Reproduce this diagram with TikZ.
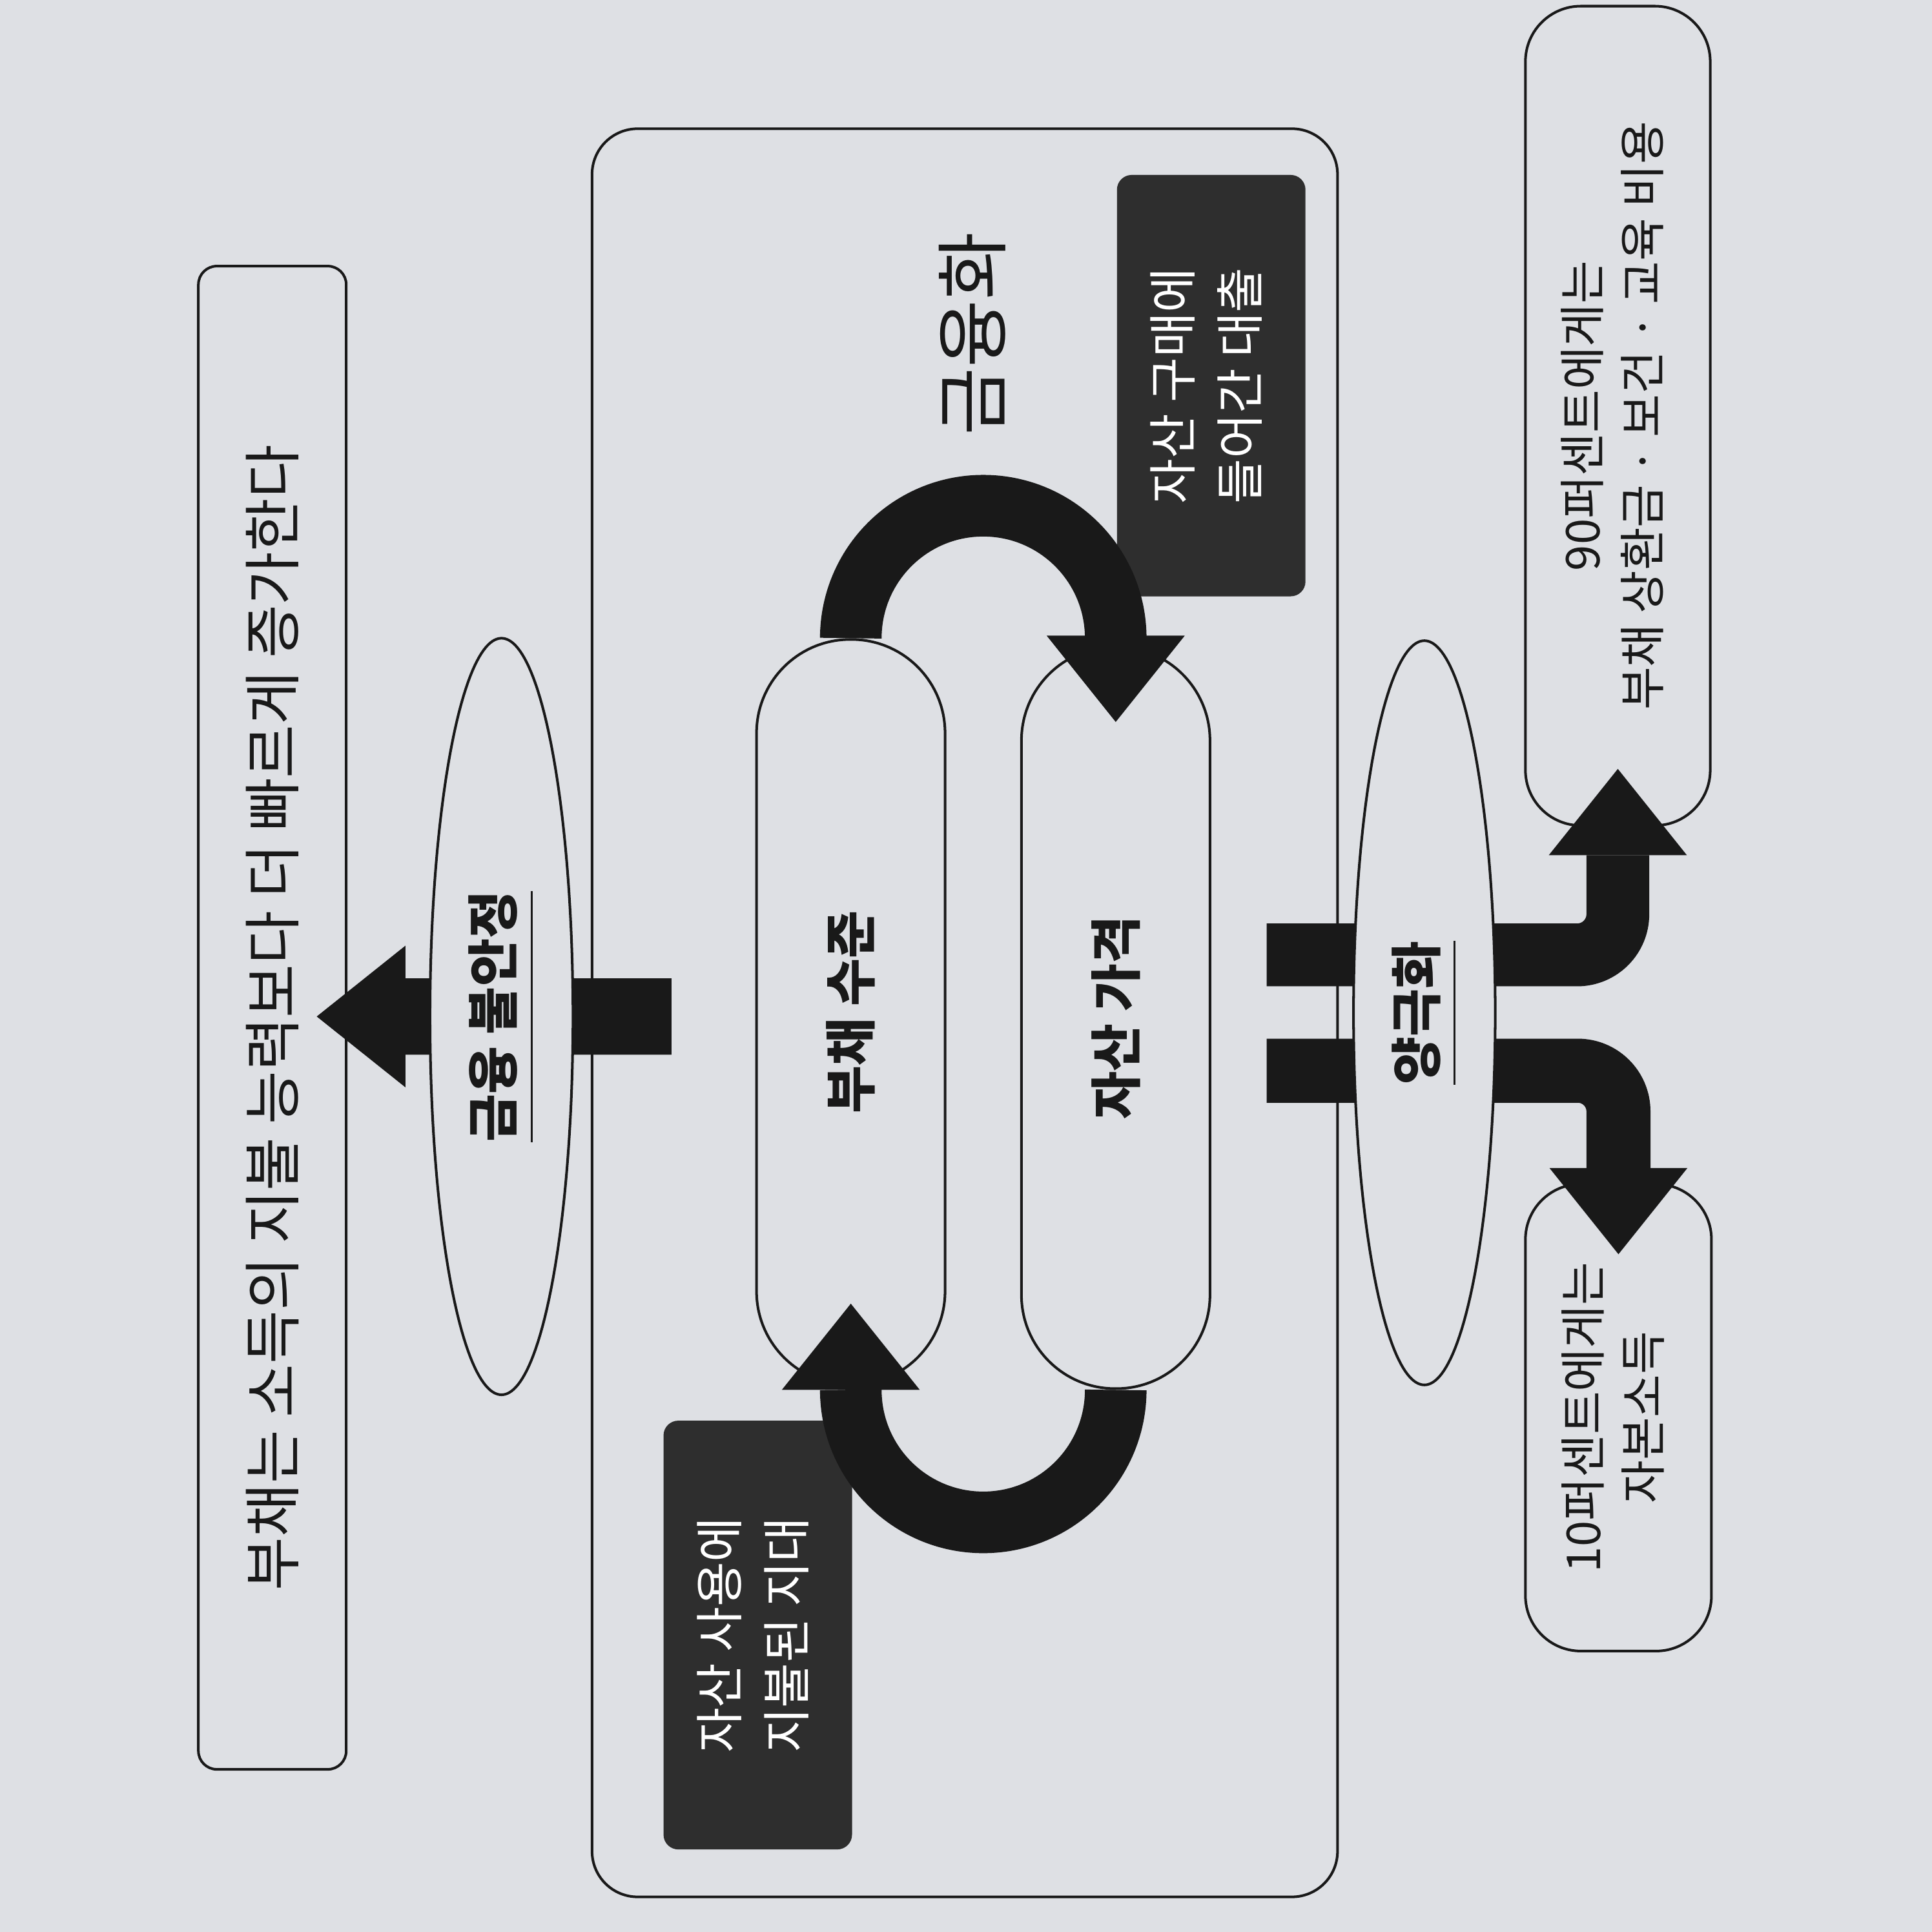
\documentclass[tikz,border=0pt]{standalone}
\usepackage{fontspec}
\setmainfont{Noto Sans CJK KR}
\usepackage{graphicx}
\usepackage{tikz}
\definecolor{paper}{RGB}{222,224,228}
\definecolor{ink}{RGB}{25,25,25}
\definecolor{slab}{RGB}{46,46,46}
\usetikzlibrary{arrows.meta, calc, shapes.geometric}
\newcommand{\vtext}[1]{\rotatebox{90}{#1}}
\newcommand{\vlines}[1]{\rotatebox{90}{\begin{tabular}{@{}c@{}}#1\end{tabular}}}
\newcommand{\ulword}[1]{\underline{\raisebox{0pt}[\height][3pt]{#1}}}

\begin{document}
\begin{tikzpicture}[
    box/.style={draw=ink, line width=0.6pt, rounded corners=0.15cm, inner sep=0pt},
    pill/.style={draw=ink, line width=0.6pt, rounded corners=0.76cm, minimum width=1.53cm, inner sep=0pt, font=\fontsize{12}{14}\selectfont\bfseries},
    slabbox/.style={fill=slab, rounded corners=0.12cm, minimum width=1.53cm, text=white, inner sep=0pt, font=\fontsize{11.3}{15.6}\selectfont},
    oval/.style={ellipse, draw=ink, line width=0.6pt, fill=paper, inner sep=0pt, minimum width=1.16cm},
    fat/.style={draw=ink, line width=#1, -{Triangle[width=1.12cm, length=0.70cm, line width=0pt]}},
    text=ink]
    % 배경
    \useasboundingbox (0,0) rectangle (15.68,15.68);
    \fill[paper] (0,0) rectangle (15.68,15.68);
    % 상자
    \node[box, minimum width=1.2cm, minimum height=12.2cm, font=\fontsize{13.4}{15}\selectfont] (income) at (2.21,7.42) {\vtext{부채는 소득의 지불 능력보다 더 빠르게 증가한다}};
    \node[box, rounded corners=0.37cm, minimum width=6.05cm, minimum height=14.35cm] (frame) at (7.83,7.46) {};
    \node[font=\fontsize{17}{20}\selectfont] (fintitle) at (7.89,12.97) {\vtext{금융화}};
    \node[pill, minimum height=6.05cm] (debt) at (6.905,7.465) {\vtext{부채 수준}};
    \node[pill, minimum height=6.02cm] (asset) at (9.055,7.42) {\vtext{자산 가격}};
    \node[slabbox, minimum height=3.42cm] (loan) at (9.83,12.55) {\vlines{자산 구매에\\들어간 대출}};
    \node[slabbox, minimum height=3.48cm] (rent) at (6.15,2.41) {\vlines{자산 사용에\\지불된 지대}};
    \node[box, rounded corners=0.45cm, minimum width=1.5cm, minimum height=6.65cm, font=\fontsize{10.8}{13.8}\selectfont] (box90) at (13.13,12.305) {\vlines{90퍼센트에게는\\부채 상환금 · 보건 · 교육 비용}};
    \node[box, rounded corners=0.45cm, minimum width=1.51cm, minimum height=3.79cm, font=\fontsize{10.8}{13.8}\selectfont] (box10) at (13.135,4.175) {\vlines{10퍼센트에게는\\자본소득}};
    % 굵은 화살표
    \coordinate (finout) at (5.45,7.43);
    \coordinate (polup) at (10.28,7.93);
    \coordinate (poldown) at (10.28,6.99);
    \draw[fat=0.62cm, -{Triangle[width=1.15cm, length=0.72cm, line width=0pt]}] (finout) -- ($(income.east)+(-0.25,0.01)$);
    \draw[fat=0.5cm] (debt.north) arc[start angle=180, end angle=0, radius=1.075] -- ++(0,-0.68);
    \draw[fat=0.5cm] (asset.south) arc[start angle=0, end angle=-180, radius=1.075] -- ++(0,0.70);
    \draw[fat=0.51cm, rounded corners=0.33cm] (polup) -- (polup -| box90.south) -- ($(box90.south)+(0,0.47)$);
    \draw[fat=0.52cm, rounded corners=0.33cm] (poldown) -- (poldown -| box10.north) -- ($(box10.north)+(0,-0.58)$);
    % 타원
    \node[oval, minimum height=6.14cm, font=\fontsize{12}{14}\selectfont\bfseries] (instab) at (4.07,7.43) {\vtext{\ulword{금융 불안정}}};
    \node[oval, minimum width=1.15cm, minimum height=6.04cm, font=\fontsize{12}{14}\selectfont\bfseries] (polar) at (11.56,7.46) {\vtext{\ulword{양극화}}};
\end{tikzpicture}
\end{document}
